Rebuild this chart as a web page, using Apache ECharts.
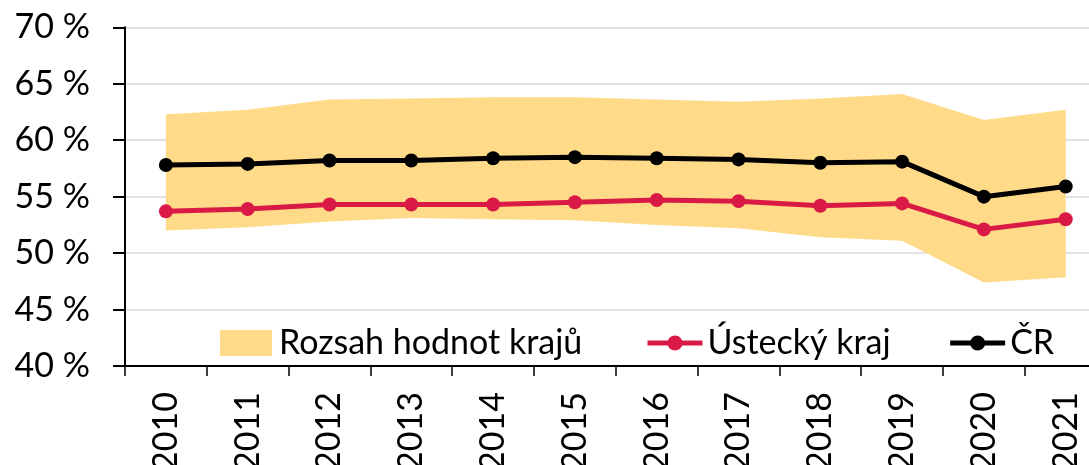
<!DOCTYPE html>
<html>
<head>
<meta charset="utf-8">
<script src="https://cdn.jsdelivr.net/npm/echarts@6/dist/echarts.min.js"></script>
<style>
html,body{margin:0;padding:0;background:#fff;}
#chart{width:1089px;height:465px;}
</style>
</head>
<body>
<div id="chart"></div>
<script>
const years = ['2010','2011','2012','2013','2014','2015','2016','2017','2018','2019','2020','2021'];
const crValues = [57.8, 57.9, 58.2, 58.2, 58.4, 58.5, 58.4, 58.3, 58.0, 58.1, 55.0, 55.9];
const usteckyValues = [53.7, 53.9, 54.3, 54.3, 54.3, 54.5, 54.7, 54.6, 54.2, 54.4, 52.1, 53.0];
const rangeMax = [62.3, 62.7, 63.6, 63.7, 63.8, 63.8, 63.6, 63.4, 63.7, 64.1, 61.8, 62.7];
const rangeMin = [52.0, 52.3, 52.8, 53.1, 53.0, 52.9, 52.5, 52.2, 51.4, 51.1, 47.4, 47.85];
const yTicks = {min: 40, max: 70, interval: 5};

const FONT = 'Lato, "Open Sans", sans-serif';
const FS = 34;
const bandColor = '#FFDA88';
const redColor = '#DA1A46';

const chart = echarts.init(document.getElementById('chart'), null, {renderer: 'canvas'});
const rangeSpan = rangeMax.map((v, i) => +(v - rangeMin[i]).toFixed(3));

chart.setOption({
  animation: false,
  backgroundColor: '#fff',
  grid: {left: 125, top: 27.3, width: 981.6, height: 338.7, containLabel: false, outerBoundsMode: 'none'},
  legend: [
    {
      data: [{name: 'Rozsah hodnot krajů', icon: 'rect', itemStyle: {color: bandColor}}],
      left: 220, top: 326, padding: 0,
      itemWidth: 52, itemHeight: 26,
      textStyle: {fontFamily: FONT, fontSize: FS, color: '#000', padding: [0, 0, 0, 2]},
      selectedMode: false
    },
    {
      data: [
        {name: 'Ústecký kraj', lineStyle: {width: 5, color: redColor}},
        {name: 'ČR', lineStyle: {width: 5, color: '#000'}}
      ],
      left: 645, top: 326, padding: 0,
      itemWidth: 55, itemHeight: 19,
      itemGap: 57,
      textStyle: {fontFamily: FONT, fontSize: FS, color: '#000'},
      selectedMode: false
    }
  ],
  xAxis: {
    type: 'category',
    data: years,
    boundaryGap: true,
    axisLine: {lineStyle: {color: '#000', width: 2}},
    axisTick: {show: true, length: 10, interval: 0, lineStyle: {color: '#000', width: 1.5}},
    axisLabel: {rotate: 90, margin: 26, interval: 0, fontFamily: FONT, fontSize: FS, color: '#000'},
    splitLine: {show: false}
  },
  yAxis: {
    type: 'value',
    min: yTicks.min, max: yTicks.max, interval: yTicks.interval,
    axisLine: {show: true, lineStyle: {color: '#000', width: 2}},
    axisTick: {show: true, length: 12, lineStyle: {color: '#000', width: 2}},
    axisLabel: {margin: 35, fontFamily: FONT, fontSize: FS, color: '#000', formatter: '{value} %'},
    splitLine: {show: true, lineStyle: {color: '#D9D9D9', width: 1.5}}
  },
  series: [
    {
      name: 'rangeBase',
      type: 'line',
      stack: 'band',
      data: rangeMin,
      symbol: 'none',
      lineStyle: {width: 0, opacity: 0},
      silent: true,
      z: 1
    },
    {
      name: 'Rozsah hodnot krajů',
      type: 'line',
      stack: 'band',
      data: rangeSpan,
      symbol: 'none',
      itemStyle: {color: bandColor},
      lineStyle: {width: 0, opacity: 0},
      areaStyle: {color: bandColor, opacity: 1},
      silent: true,
      z: 1
    },
    {
      name: 'Ústecký kraj',
      type: 'line',
      data: usteckyValues,
      symbol: 'circle',
      symbolSize: 14,
      itemStyle: {color: redColor},
      lineStyle: {color: redColor, width: 5},
      z: 3
    },
    {
      name: 'ČR',
      type: 'line',
      data: crValues,
      symbol: 'circle',
      symbolSize: 14,
      itemStyle: {color: '#000'},
      lineStyle: {color: '#000', width: 5},
      z: 4
    }
  ]
});
</script>
</body>
</html>
